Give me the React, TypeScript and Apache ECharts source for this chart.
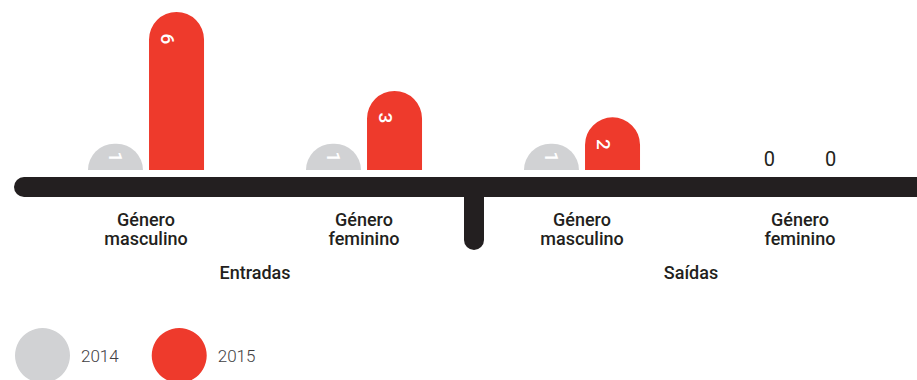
import React, { useEffect, useRef } from "react";
import * as echarts from "echarts";

const categories = ["Género\nmasculino", "Género\nfeminino", "Género\nmasculino", "Género\nfeminino"];
const groups = ["Entradas", "Saídas"];
const values2014 = [1, 1, 1, 0];
const values2015 = [6, 3, 2, 0];
const seriesNames = ["2014", "2015"];

const GRAY = "#d1d2d4";
const RED = "#ee3a2c";
const DARK = "#231f20";
const FONT = "Roboto, 'DejaVu Sans', sans-serif";

function buildData(vals: number[]) {
  return vals.map((v) =>
    v === 0
      ? {
          value: v,
          label: {
            show: true,
            position: "top",
            rotate: 0,
            distance: 1,
            color: DARK,
            fontSize: 20,
            fontWeight: 400,
          },
        }
      : { value: v }
  );
}

export default function App() {
  const ref = useRef<HTMLDivElement>(null);
  useEffect(() => {
    if (!ref.current) return;
    const chart = echarts.init(ref.current, null, { renderer: "svg" });
    const barLabel = {
      show: true,
      rotate: -90,
      color: "#ffffff",
      fontSize: 19,
      fontWeight: 500,
      fontFamily: FONT,
    };
    chart.setOption({
      animation: false,
      textStyle: { fontFamily: FONT },
      grid: { left: 37, right: 8, top: 12, bottom: 210 },
      legend: {
        data: seriesNames,
        icon: "circle",
        itemWidth: 55,
        itemHeight: 55,
        itemGap: 33,
        left: 15,
        top: 328,
        padding: 0,
        textStyle: { fontSize: 17, color: "#414042", fontWeight: 300, fontFamily: FONT, padding: [0, 0, 0, 6] },
      },
      xAxis: [
        {
          type: "category",
          data: categories,
          axisLine: { show: false },
          axisTick: { show: false },
          axisLabel: { margin: 40, fontSize: 18, lineHeight: 19, fontWeight: 500, color: DARK, fontFamily: FONT },
        },
        {
          type: "category",
          data: groups,
          position: "bottom",
          axisLine: { show: false },
          axisTick: { show: false },
          axisLabel: { margin: 93, fontSize: 18, fontWeight: 500, color: DARK, fontFamily: FONT },
        },
      ],
      yAxis: {
        type: "value",
        min: 0,
        max: 6,
        show: false,
        splitLine: { show: false },
      },
      series: [
        {
          name: seriesNames[0],
          type: "bar",
          xAxisIndex: 0,
          data: buildData(values2014),
          barWidth: 55,
          barGap: "11%",
          itemStyle: { color: GRAY, borderRadius: [27.5, 27.5, 0, 0] },
          label: { ...barLabel, position: "inside" },
        },
        {
          name: seriesNames[1],
          type: "bar",
          xAxisIndex: 0,
          data: buildData(values2015),
          barWidth: 55,
          barGap: "11%",
          itemStyle: { color: RED, borderRadius: [27.5, 27.5, 0, 0] },
          label: { ...barLabel, position: "insideTop", distance: 27 },
        },
      ],
      graphic: [
        {
          type: "rect",
          shape: { x: 14, y: 177, width: 920, height: 20, r: [10, 0, 0, 10] },
          style: { fill: DARK },
          z: 10,
        },
        {
          type: "rect",
          shape: { x: 464, y: 185, width: 20, height: 65, r: [0, 0, 10, 10] },
          style: { fill: DARK },
          z: 10,
        },
      ],
    });
    return () => chart.dispose();
  }, []);
  return <div ref={ref} style={{ width: 917, height: 380, position: "absolute", left: 0, top: 0 }} />;
}
